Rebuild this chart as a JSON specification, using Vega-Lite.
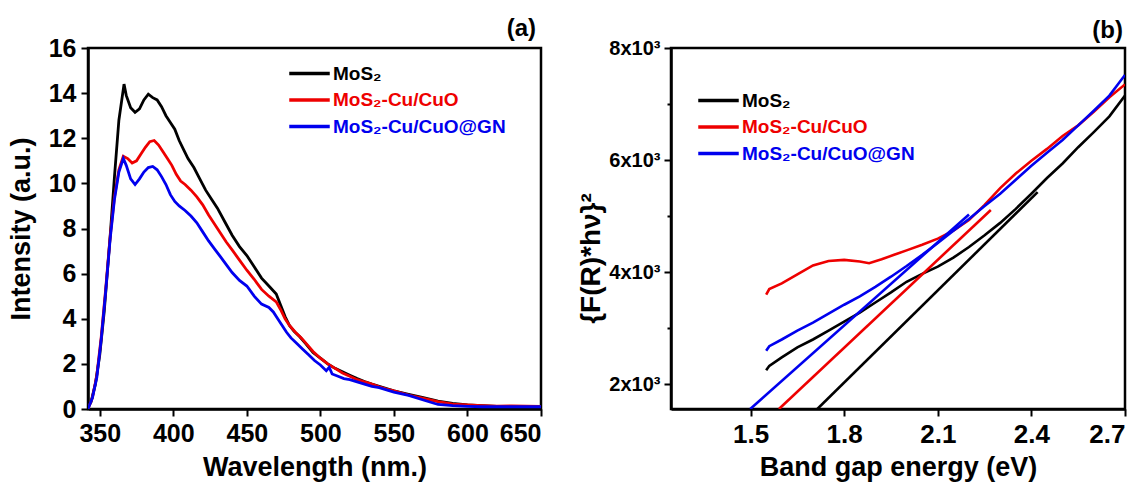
{
  "$schema": "https://vega.github.io/schema/vega-lite/v6.json",
  "background": "white",
  "padding": {"left": 5, "top": 15, "right": 0, "bottom": 0},
  "spacing": 130,
  "bounds": "flush",
  "resolve": {"scale": {"color": "independent"}, "legend": {"color": "independent"}},
  "config": {
    "view": {"stroke": "#000000", "strokeWidth": 2.5},
    "font": "Liberation Sans",
    "axis": {
      "domain": true, "domainColor": "#000000", "domainWidth": 2.5, "grid": false,
      "tickColor": "#000000", "tickWidth": 2, "tickSize": 7,
      "labelFont": "Liberation Sans", "labelFontWeight": "bold", "labelColor": "black",
      "labelFontSize": 25, "labelPadding": 5,
      "titleFont": "Liberation Sans", "titleFontWeight": "bold", "titleColor": "black", "titleFontSize": 27
    },
    "legend": {
      "symbolType": "M-1.5,0H1.5", "symbolSize": 729, "symbolStrokeWidth": 3.5,
      "labelFont": "Liberation Sans", "labelFontWeight": "bold", "labelFontSize": 19, "labelLimit": 400,
      "rowPadding": 0.5, "labelOffset": 8, "padding": 0
    },
    "title": {"font": "Liberation Sans", "fontWeight": "bold", "fontSize": 24, "color": "black", "anchor": "end"}
  },
  "hconcat": [
    {
      "width": 453, "height": 361,
      "title": {"text": "(a)", "offset": -5, "dx": -6},
      "data": {"values": [
        {"s":"MoS₂","x":341,"y":0},{"s":"MoS₂","x":344,"y":0.3},{"s":"MoS₂","x":347,"y":1.1},{"s":"MoS₂","x":350,"y":2.4},{"s":"MoS₂","x":353,"y":4.3},{"s":"MoS₂","x":357,"y":7.6},{"s":"MoS₂","x":360,"y":10.3},{"s":"MoS₂","x":363,"y":12.8},{"s":"MoS₂","x":366.5,"y":14.4},{"s":"MoS₂","x":368,"y":13.9},{"s":"MoS₂","x":371,"y":13.35},{"s":"MoS₂","x":374,"y":13.15},{"s":"MoS₂","x":377,"y":13.3},{"s":"MoS₂","x":380,"y":13.7},{"s":"MoS₂","x":383,"y":13.95},{"s":"MoS₂","x":386,"y":13.8},{"s":"MoS₂","x":389,"y":13.7},{"s":"MoS₂","x":392,"y":13.4},{"s":"MoS₂","x":395,"y":13.0},{"s":"MoS₂","x":398,"y":12.7},{"s":"MoS₂","x":401,"y":12.4},{"s":"MoS₂","x":404,"y":11.9},{"s":"MoS₂","x":407,"y":11.5},{"s":"MoS₂","x":410,"y":11.1},{"s":"MoS₂","x":414,"y":10.7},{"s":"MoS₂","x":418,"y":10.2},{"s":"MoS₂","x":422,"y":9.7},{"s":"MoS₂","x":426,"y":9.3},{"s":"MoS₂","x":430,"y":8.9},{"s":"MoS₂","x":435,"y":8.3},{"s":"MoS₂","x":440,"y":7.7},{"s":"MoS₂","x":445,"y":7.2},{"s":"MoS₂","x":450,"y":6.8},{"s":"MoS₂","x":455,"y":6.3},{"s":"MoS₂","x":460,"y":5.8},{"s":"MoS₂","x":465,"y":5.45},{"s":"MoS₂","x":470,"y":5.1},{"s":"MoS₂","x":473,"y":4.6},{"s":"MoS₂","x":476,"y":4.1},{"s":"MoS₂","x":479,"y":3.7},{"s":"MoS₂","x":482,"y":3.45},{"s":"MoS₂","x":486,"y":3.2},{"s":"MoS₂","x":490,"y":2.9},{"s":"MoS₂","x":495,"y":2.5},{"s":"MoS₂","x":500,"y":2.25},{"s":"MoS₂","x":505,"y":2.0},{"s":"MoS₂","x":510,"y":1.8},{"s":"MoS₂","x":515,"y":1.65},{"s":"MoS₂","x":520,"y":1.5},{"s":"MoS₂","x":525,"y":1.35},{"s":"MoS₂","x":530,"y":1.22},{"s":"MoS₂","x":535,"y":1.1},{"s":"MoS₂","x":540,"y":1.0},{"s":"MoS₂","x":545,"y":0.9},{"s":"MoS₂","x":550,"y":0.8},{"s":"MoS₂","x":560,"y":0.65},{"s":"MoS₂","x":570,"y":0.5},{"s":"MoS₂","x":580,"y":0.35},{"s":"MoS₂","x":590,"y":0.25},{"s":"MoS₂","x":600,"y":0.18},{"s":"MoS₂","x":610,"y":0.15},{"s":"MoS₂","x":620,"y":0.12},{"s":"MoS₂","x":630,"y":0.1},{"s":"MoS₂","x":640,"y":0.1},{"s":"MoS₂","x":650,"y":0.1},
        {"s":"MoS₂-Cu/CuO","x":342,"y":0},{"s":"MoS₂-Cu/CuO","x":345,"y":0.5},{"s":"MoS₂-Cu/CuO","x":348,"y":1.5},{"s":"MoS₂-Cu/CuO","x":351,"y":3.2},{"s":"MoS₂-Cu/CuO","x":354,"y":5.3},{"s":"MoS₂-Cu/CuO","x":357,"y":7.6},{"s":"MoS₂-Cu/CuO","x":360,"y":9.4},{"s":"MoS₂-Cu/CuO","x":363,"y":10.6},{"s":"MoS₂-Cu/CuO","x":366,"y":11.2},{"s":"MoS₂-Cu/CuO","x":369,"y":11.1},{"s":"MoS₂-Cu/CuO","x":372,"y":10.9},{"s":"MoS₂-Cu/CuO","x":375,"y":11.0},{"s":"MoS₂-Cu/CuO","x":378,"y":11.3},{"s":"MoS₂-Cu/CuO","x":381,"y":11.6},{"s":"MoS₂-Cu/CuO","x":384,"y":11.85},{"s":"MoS₂-Cu/CuO","x":387,"y":11.9},{"s":"MoS₂-Cu/CuO","x":390,"y":11.7},{"s":"MoS₂-Cu/CuO","x":393,"y":11.4},{"s":"MoS₂-Cu/CuO","x":396,"y":11.1},{"s":"MoS₂-Cu/CuO","x":399,"y":10.8},{"s":"MoS₂-Cu/CuO","x":402,"y":10.4},{"s":"MoS₂-Cu/CuO","x":405,"y":10.1},{"s":"MoS₂-Cu/CuO","x":408,"y":9.95},{"s":"MoS₂-Cu/CuO","x":412,"y":9.7},{"s":"MoS₂-Cu/CuO","x":416,"y":9.4},{"s":"MoS₂-Cu/CuO","x":420,"y":9.05},{"s":"MoS₂-Cu/CuO","x":424,"y":8.6},{"s":"MoS₂-Cu/CuO","x":428,"y":8.2},{"s":"MoS₂-Cu/CuO","x":432,"y":7.8},{"s":"MoS₂-Cu/CuO","x":436,"y":7.4},{"s":"MoS₂-Cu/CuO","x":440,"y":7.05},{"s":"MoS₂-Cu/CuO","x":445,"y":6.6},{"s":"MoS₂-Cu/CuO","x":450,"y":6.15},{"s":"MoS₂-Cu/CuO","x":455,"y":5.75},{"s":"MoS₂-Cu/CuO","x":460,"y":5.3},{"s":"MoS₂-Cu/CuO","x":465,"y":5.0},{"s":"MoS₂-Cu/CuO","x":470,"y":4.75},{"s":"MoS₂-Cu/CuO","x":473,"y":4.4},{"s":"MoS₂-Cu/CuO","x":476,"y":4.0},{"s":"MoS₂-Cu/CuO","x":479,"y":3.7},{"s":"MoS₂-Cu/CuO","x":483,"y":3.4},{"s":"MoS₂-Cu/CuO","x":487,"y":3.15},{"s":"MoS₂-Cu/CuO","x":491,"y":2.85},{"s":"MoS₂-Cu/CuO","x":495,"y":2.55},{"s":"MoS₂-Cu/CuO","x":500,"y":2.25},{"s":"MoS₂-Cu/CuO","x":505,"y":2.0},{"s":"MoS₂-Cu/CuO","x":510,"y":1.8},{"s":"MoS₂-Cu/CuO","x":515,"y":1.6},{"s":"MoS₂-Cu/CuO","x":520,"y":1.45},{"s":"MoS₂-Cu/CuO","x":525,"y":1.3},{"s":"MoS₂-Cu/CuO","x":530,"y":1.2},{"s":"MoS₂-Cu/CuO","x":535,"y":1.1},{"s":"MoS₂-Cu/CuO","x":540,"y":0.98},{"s":"MoS₂-Cu/CuO","x":545,"y":0.88},{"s":"MoS₂-Cu/CuO","x":550,"y":0.8},{"s":"MoS₂-Cu/CuO","x":560,"y":0.62},{"s":"MoS₂-Cu/CuO","x":570,"y":0.47},{"s":"MoS₂-Cu/CuO","x":580,"y":0.33},{"s":"MoS₂-Cu/CuO","x":590,"y":0.22},{"s":"MoS₂-Cu/CuO","x":600,"y":0.18},{"s":"MoS₂-Cu/CuO","x":610,"y":0.15},{"s":"MoS₂-Cu/CuO","x":620,"y":0.13},{"s":"MoS₂-Cu/CuO","x":630,"y":0.14},{"s":"MoS₂-Cu/CuO","x":640,"y":0.13},{"s":"MoS₂-Cu/CuO","x":650,"y":0.12},
        {"s":"MoS₂-Cu/CuO@GN","x":342,"y":0},{"s":"MoS₂-Cu/CuO@GN","x":345,"y":0.5},{"s":"MoS₂-Cu/CuO@GN","x":348,"y":1.4},{"s":"MoS₂-Cu/CuO@GN","x":351,"y":3.1},{"s":"MoS₂-Cu/CuO@GN","x":354,"y":5.2},{"s":"MoS₂-Cu/CuO@GN","x":357,"y":7.5},{"s":"MoS₂-Cu/CuO@GN","x":360,"y":9.3},{"s":"MoS₂-Cu/CuO@GN","x":363,"y":10.5},{"s":"MoS₂-Cu/CuO@GN","x":366,"y":11.1},{"s":"MoS₂-Cu/CuO@GN","x":368,"y":10.8},{"s":"MoS₂-Cu/CuO@GN","x":371,"y":10.2},{"s":"MoS₂-Cu/CuO@GN","x":374,"y":9.95},{"s":"MoS₂-Cu/CuO@GN","x":377,"y":10.2},{"s":"MoS₂-Cu/CuO@GN","x":380,"y":10.5},{"s":"MoS₂-Cu/CuO@GN","x":383,"y":10.7},{"s":"MoS₂-Cu/CuO@GN","x":386,"y":10.75},{"s":"MoS₂-Cu/CuO@GN","x":389,"y":10.6},{"s":"MoS₂-Cu/CuO@GN","x":392,"y":10.3},{"s":"MoS₂-Cu/CuO@GN","x":395,"y":9.95},{"s":"MoS₂-Cu/CuO@GN","x":398,"y":9.5},{"s":"MoS₂-Cu/CuO@GN","x":401,"y":9.2},{"s":"MoS₂-Cu/CuO@GN","x":404,"y":9.0},{"s":"MoS₂-Cu/CuO@GN","x":408,"y":8.8},{"s":"MoS₂-Cu/CuO@GN","x":412,"y":8.55},{"s":"MoS₂-Cu/CuO@GN","x":416,"y":8.25},{"s":"MoS₂-Cu/CuO@GN","x":420,"y":7.85},{"s":"MoS₂-Cu/CuO@GN","x":424,"y":7.45},{"s":"MoS₂-Cu/CuO@GN","x":428,"y":7.1},{"s":"MoS₂-Cu/CuO@GN","x":432,"y":6.75},{"s":"MoS₂-Cu/CuO@GN","x":436,"y":6.4},{"s":"MoS₂-Cu/CuO@GN","x":440,"y":6.05},{"s":"MoS₂-Cu/CuO@GN","x":445,"y":5.7},{"s":"MoS₂-Cu/CuO@GN","x":450,"y":5.45},{"s":"MoS₂-Cu/CuO@GN","x":455,"y":5.0},{"s":"MoS₂-Cu/CuO@GN","x":460,"y":4.65},{"s":"MoS₂-Cu/CuO@GN","x":465,"y":4.5},{"s":"MoS₂-Cu/CuO@GN","x":468,"y":4.3},{"s":"MoS₂-Cu/CuO@GN","x":471,"y":4.0},{"s":"MoS₂-Cu/CuO@GN","x":474,"y":3.7},{"s":"MoS₂-Cu/CuO@GN","x":477,"y":3.4},{"s":"MoS₂-Cu/CuO@GN","x":480,"y":3.15},{"s":"MoS₂-Cu/CuO@GN","x":484,"y":2.9},{"s":"MoS₂-Cu/CuO@GN","x":488,"y":2.65},{"s":"MoS₂-Cu/CuO@GN","x":492,"y":2.4},{"s":"MoS₂-Cu/CuO@GN","x":496,"y":2.15},{"s":"MoS₂-Cu/CuO@GN","x":500,"y":1.95},{"s":"MoS₂-Cu/CuO@GN","x":504,"y":1.7},{"s":"MoS₂-Cu/CuO@GN","x":506,"y":1.85},{"s":"MoS₂-Cu/CuO@GN","x":508,"y":1.55},{"s":"MoS₂-Cu/CuO@GN","x":512,"y":1.45},{"s":"MoS₂-Cu/CuO@GN","x":516,"y":1.35},{"s":"MoS₂-Cu/CuO@GN","x":520,"y":1.3},{"s":"MoS₂-Cu/CuO@GN","x":525,"y":1.2},{"s":"MoS₂-Cu/CuO@GN","x":530,"y":1.1},{"s":"MoS₂-Cu/CuO@GN","x":535,"y":1.0},{"s":"MoS₂-Cu/CuO@GN","x":540,"y":0.95},{"s":"MoS₂-Cu/CuO@GN","x":545,"y":0.85},{"s":"MoS₂-Cu/CuO@GN","x":550,"y":0.75},{"s":"MoS₂-Cu/CuO@GN","x":560,"y":0.6},{"s":"MoS₂-Cu/CuO@GN","x":570,"y":0.4},{"s":"MoS₂-Cu/CuO@GN","x":575,"y":0.3},{"s":"MoS₂-Cu/CuO@GN","x":580,"y":0.2},{"s":"MoS₂-Cu/CuO@GN","x":590,"y":0.15},{"s":"MoS₂-Cu/CuO@GN","x":600,"y":0.12},{"s":"MoS₂-Cu/CuO@GN","x":610,"y":0.1},{"s":"MoS₂-Cu/CuO@GN","x":620,"y":0.1},{"s":"MoS₂-Cu/CuO@GN","x":630,"y":0.1},{"s":"MoS₂-Cu/CuO@GN","x":640,"y":0.1},{"s":"MoS₂-Cu/CuO@GN","x":650,"y":0.1}
      ]},
      "mark": {"type": "line", "strokeWidth": 2.8, "clip": true},
      "encoding": {
        "x": {"field": "x", "type": "quantitative", "scale": {"domain": [342, 650], "nice": false, "zero": false},
              "axis": {"values": [350, 400, 450, 500, 550, 600, 650], "title": "Wavelength (nm.)", "titlePadding": 8}},
        "y": {"field": "y", "type": "quantitative", "scale": {"domain": [0, 16], "nice": false},
              "axis": {"values": [0, 2, 4, 6, 8, 10, 12, 14, 16], "title": "Intensity (a.u.)", "titlePadding": 13}},
        "color": {"field": "s", "type": "nominal",
                  "scale": {"domain": ["MoS₂", "MoS₂-Cu/CuO", "MoS₂-Cu/CuO@GN"], "range": ["#000000", "#ee0000", "#0000ee"]},
                  "legend": {"title": null, "orient": "none", "legendX": 206, "legendY": 10,
                             "encoding": {"labels": {"fill": {"condition": [{"test": "datum.value === 'MoS₂-Cu/CuO'", "value": "#ee0000"}, {"test": "datum.value === 'MoS₂-Cu/CuO@GN'", "value": "#0000ee"}], "value": "#000000"}}}}},
        "order": {"field": "x", "type": "quantitative"}
      }
    },
    {
      "width": 454, "height": 361,
      "title": {"text": "(b)", "offset": -5, "dx": -3},
      "data": {"values": [
        {"s":"MoS₂","k":"c","x":1.55,"y":2250},{"s":"MoS₂","k":"c","x":1.56,"y":2330},{"s":"MoS₂","k":"c","x":1.6,"y":2480},{"s":"MoS₂","k":"c","x":1.65,"y":2660},{"s":"MoS₂","k":"c","x":1.7,"y":2800},{"s":"MoS₂","k":"c","x":1.75,"y":2960},{"s":"MoS₂","k":"c","x":1.8,"y":3120},{"s":"MoS₂","k":"c","x":1.85,"y":3280},{"s":"MoS₂","k":"c","x":1.9,"y":3460},{"s":"MoS₂","k":"c","x":1.95,"y":3640},{"s":"MoS₂","k":"c","x":2.0,"y":3830},{"s":"MoS₂","k":"c","x":2.05,"y":3970},{"s":"MoS₂","k":"c","x":2.1,"y":4100},{"s":"MoS₂","k":"c","x":2.15,"y":4260},{"s":"MoS₂","k":"c","x":2.2,"y":4450},{"s":"MoS₂","k":"c","x":2.25,"y":4660},{"s":"MoS₂","k":"c","x":2.3,"y":4880},{"s":"MoS₂","k":"c","x":2.35,"y":5130},{"s":"MoS₂","k":"c","x":2.4,"y":5400},{"s":"MoS₂","k":"c","x":2.45,"y":5680},{"s":"MoS₂","k":"c","x":2.5,"y":5940},{"s":"MoS₂","k":"c","x":2.55,"y":6230},{"s":"MoS₂","k":"c","x":2.6,"y":6500},{"s":"MoS₂","k":"c","x":2.65,"y":6780},{"s":"MoS₂","k":"c","x":2.7,"y":7150},
        {"s":"MoS₂-Cu/CuO","k":"c","x":1.55,"y":3600},{"s":"MoS₂-Cu/CuO","k":"c","x":1.56,"y":3700},{"s":"MoS₂-Cu/CuO","k":"c","x":1.6,"y":3800},{"s":"MoS₂-Cu/CuO","k":"c","x":1.65,"y":3960},{"s":"MoS₂-Cu/CuO","k":"c","x":1.7,"y":4120},{"s":"MoS₂-Cu/CuO","k":"c","x":1.75,"y":4200},{"s":"MoS₂-Cu/CuO","k":"c","x":1.8,"y":4220},{"s":"MoS₂-Cu/CuO","k":"c","x":1.85,"y":4190},{"s":"MoS₂-Cu/CuO","k":"c","x":1.88,"y":4160},{"s":"MoS₂-Cu/CuO","k":"c","x":1.92,"y":4230},{"s":"MoS₂-Cu/CuO","k":"c","x":1.96,"y":4310},{"s":"MoS₂-Cu/CuO","k":"c","x":2.0,"y":4390},{"s":"MoS₂-Cu/CuO","k":"c","x":2.05,"y":4490},{"s":"MoS₂-Cu/CuO","k":"c","x":2.1,"y":4600},{"s":"MoS₂-Cu/CuO","k":"c","x":2.15,"y":4740},{"s":"MoS₂-Cu/CuO","k":"c","x":2.2,"y":4930},{"s":"MoS₂-Cu/CuO","k":"c","x":2.25,"y":5200},{"s":"MoS₂-Cu/CuO","k":"c","x":2.3,"y":5500},{"s":"MoS₂-Cu/CuO","k":"c","x":2.35,"y":5760},{"s":"MoS₂-Cu/CuO","k":"c","x":2.4,"y":5990},{"s":"MoS₂-Cu/CuO","k":"c","x":2.45,"y":6200},{"s":"MoS₂-Cu/CuO","k":"c","x":2.5,"y":6430},{"s":"MoS₂-Cu/CuO","k":"c","x":2.55,"y":6620},{"s":"MoS₂-Cu/CuO","k":"c","x":2.6,"y":6860},{"s":"MoS₂-Cu/CuO","k":"c","x":2.65,"y":7120},{"s":"MoS₂-Cu/CuO","k":"c","x":2.7,"y":7350},
        {"s":"MoS₂-Cu/CuO@GN","k":"c","x":1.55,"y":2600},{"s":"MoS₂-Cu/CuO@GN","k":"c","x":1.56,"y":2680},{"s":"MoS₂-Cu/CuO@GN","k":"c","x":1.6,"y":2800},{"s":"MoS₂-Cu/CuO@GN","k":"c","x":1.65,"y":2960},{"s":"MoS₂-Cu/CuO@GN","k":"c","x":1.7,"y":3100},{"s":"MoS₂-Cu/CuO@GN","k":"c","x":1.75,"y":3260},{"s":"MoS₂-Cu/CuO@GN","k":"c","x":1.8,"y":3420},{"s":"MoS₂-Cu/CuO@GN","k":"c","x":1.85,"y":3570},{"s":"MoS₂-Cu/CuO@GN","k":"c","x":1.9,"y":3740},{"s":"MoS₂-Cu/CuO@GN","k":"c","x":1.95,"y":3920},{"s":"MoS₂-Cu/CuO@GN","k":"c","x":2.0,"y":4110},{"s":"MoS₂-Cu/CuO@GN","k":"c","x":2.05,"y":4310},{"s":"MoS₂-Cu/CuO@GN","k":"c","x":2.1,"y":4520},{"s":"MoS₂-Cu/CuO@GN","k":"c","x":2.15,"y":4740},{"s":"MoS₂-Cu/CuO@GN","k":"c","x":2.2,"y":4950},{"s":"MoS₂-Cu/CuO@GN","k":"c","x":2.25,"y":5180},{"s":"MoS₂-Cu/CuO@GN","k":"c","x":2.3,"y":5400},{"s":"MoS₂-Cu/CuO@GN","k":"c","x":2.35,"y":5650},{"s":"MoS₂-Cu/CuO@GN","k":"c","x":2.4,"y":5900},{"s":"MoS₂-Cu/CuO@GN","k":"c","x":2.45,"y":6130},{"s":"MoS₂-Cu/CuO@GN","k":"c","x":2.5,"y":6360},{"s":"MoS₂-Cu/CuO@GN","k":"c","x":2.55,"y":6620},{"s":"MoS₂-Cu/CuO@GN","k":"c","x":2.6,"y":6880},{"s":"MoS₂-Cu/CuO@GN","k":"c","x":2.65,"y":7150},{"s":"MoS₂-Cu/CuO@GN","k":"c","x":2.7,"y":7520},
        {"s":"MoS₂","k":"f","x":1.714,"y":1560},{"s":"MoS₂","k":"f","x":2.42,"y":5430},
        {"s":"MoS₂-Cu/CuO","k":"f","x":1.591,"y":1560},{"s":"MoS₂-Cu/CuO","k":"f","x":2.27,"y":5110},
        {"s":"MoS₂-Cu/CuO@GN","k":"f","x":1.499,"y":1560},{"s":"MoS₂-Cu/CuO@GN","k":"f","x":2.2,"y":5030}
      ]},
      "mark": {"type": "line", "strokeWidth": 2.6, "clip": true},
      "encoding": {
        "x": {"field": "x", "type": "quantitative", "scale": {"domain": [1.245, 2.7], "nice": false, "zero": false},
              "axis": {"values": [1.5, 1.8, 2.1, 2.4, 2.7], "format": ".1f", "labelFontSize": 26, "title": "Band gap energy (eV)", "titlePadding": 7}},
        "y": {"field": "y", "type": "quantitative", "scale": {"domain": [1560, 8000], "nice": false, "zero": false},
              "axis": {"values": [2000, 3000, 4000, 5000, 6000, 7000, 8000], "labelFontSize": 20, "labelPadding": 4,
                       "labelExpr": "datum.value % 2000 == 0 ? (datum.value / 1000) + 'x10³' : ''",
                       "tickSize": {"condition": {"test": "datum.value % 2000 != 0", "value": 4}, "value": 7},
                       "title": "{F(R)*hν}²", "titleFontSize": 28, "titlePadding": 3, "titleY": 210}},
        "color": {"field": "s", "type": "nominal",
                  "scale": {"domain": ["MoS₂", "MoS₂-Cu/CuO", "MoS₂-Cu/CuO@GN"], "range": ["#000000", "#ee0000", "#0000ee"]},
                  "legend": {"title": null, "orient": "none", "legendX": 32, "legendY": 37,
                             "encoding": {"labels": {"fill": {"condition": [{"test": "datum.value === 'MoS₂-Cu/CuO'", "value": "#ee0000"}, {"test": "datum.value === 'MoS₂-Cu/CuO@GN'", "value": "#0000ee"}], "value": "#000000"}}}}},
        "detail": {"field": "k", "type": "nominal"},
        "order": {"field": "x", "type": "quantitative"}
      }
    }
  ]
}
